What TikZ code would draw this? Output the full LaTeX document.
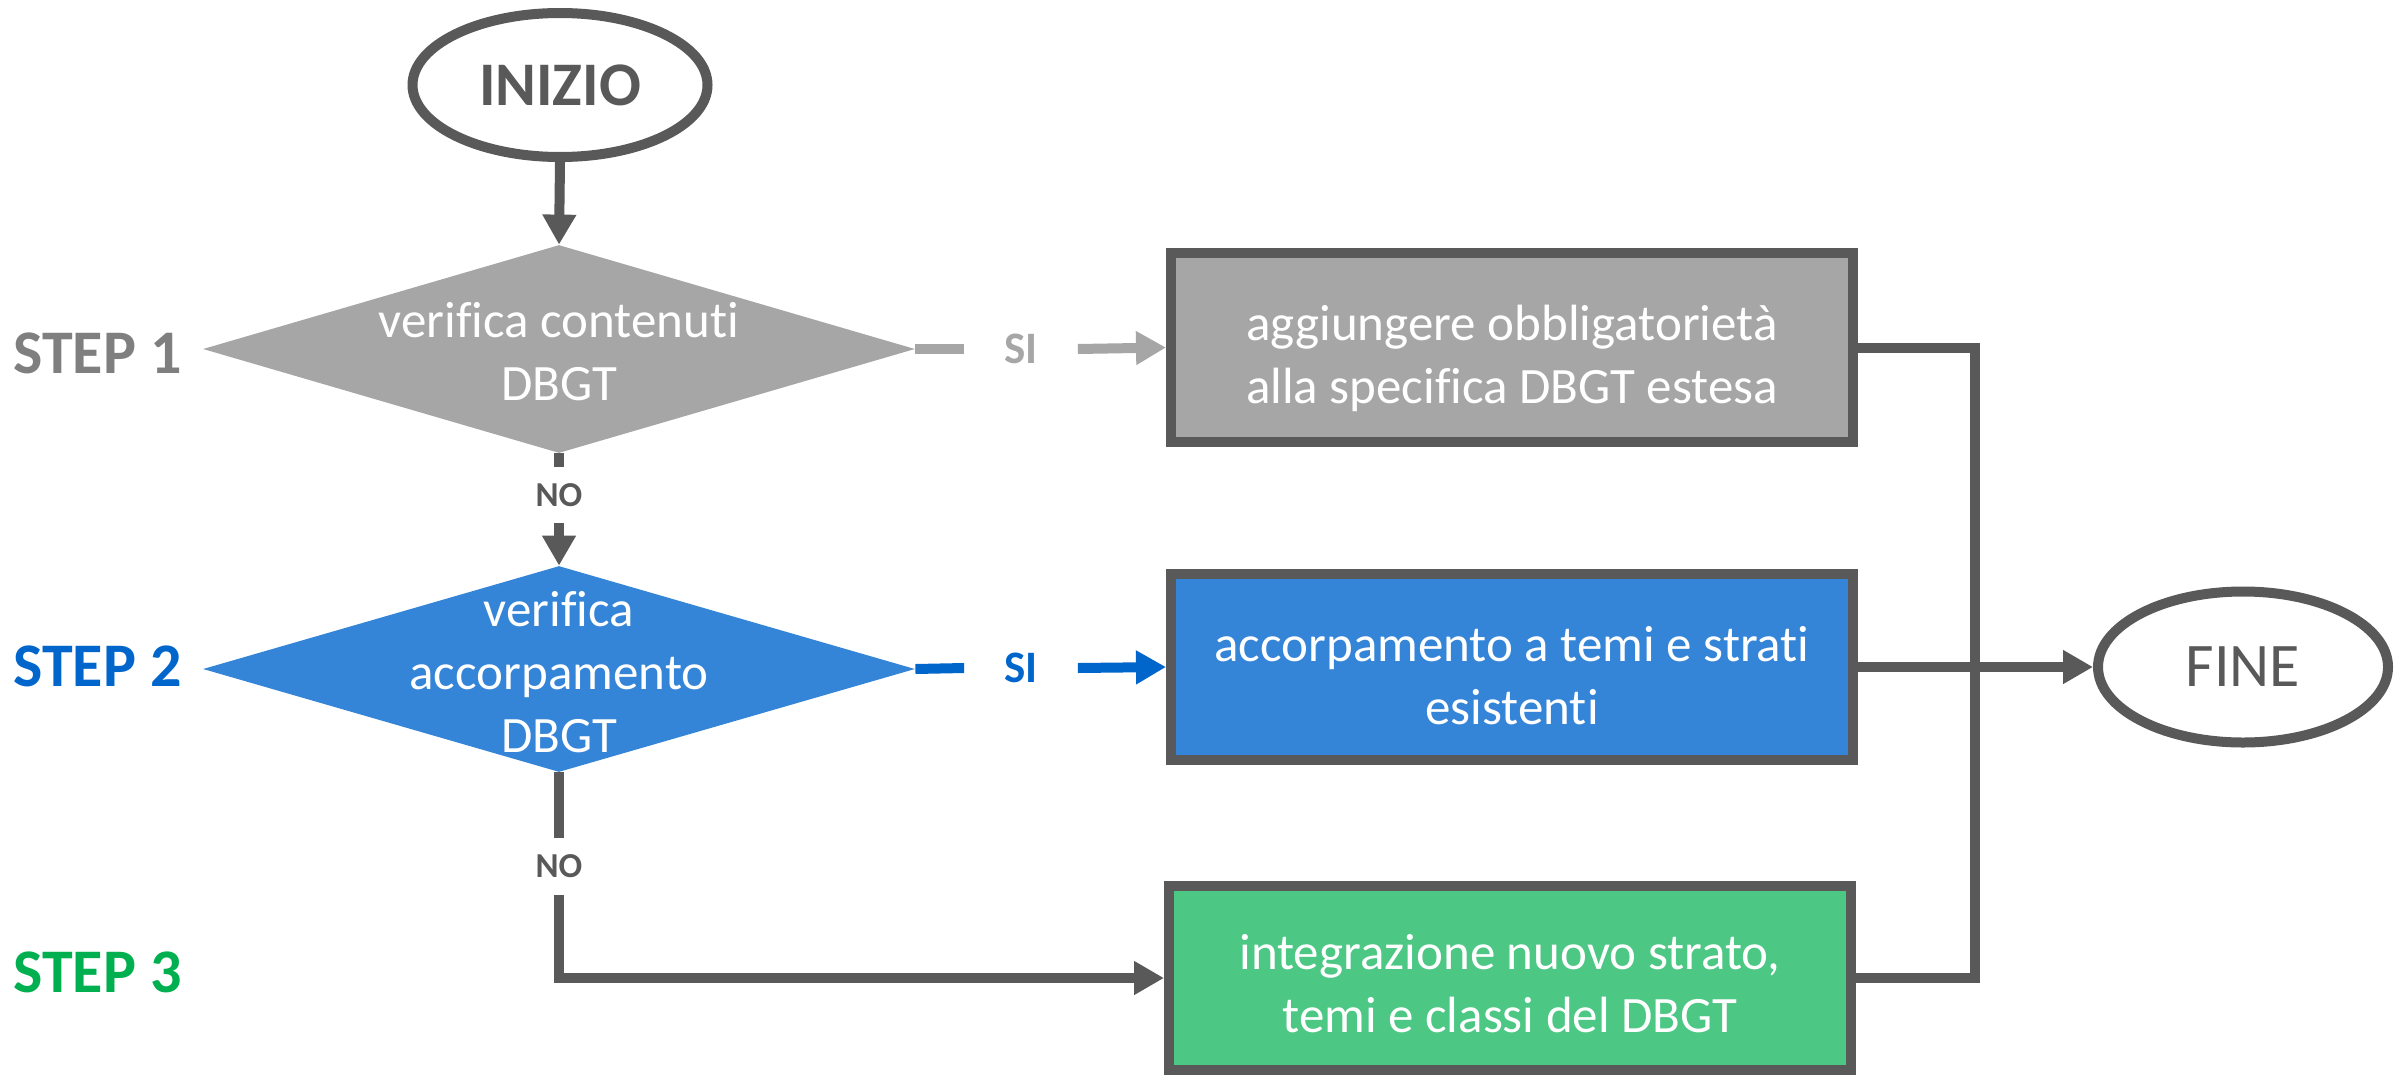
\documentclass[tikz,border=0pt]{standalone}
\usepackage{fontspec}
\setmainfont{Carlito}[Ligatures={NoCommon,NoContextual}]
\usetikzlibrary{shapes.geometric,arrows.meta}
\definecolor{dk}{HTML}{595959}
\definecolor{lg}{HTML}{A6A6A6}
\definecolor{sone}{HTML}{7F7F7F}
\definecolor{bl}{HTML}{0066CC}
\definecolor{blf}{HTML}{3484D7}
\definecolor{gf}{HTML}{4CC784}
\definecolor{sthree}{HTML}{00B050}
\begin{document}
\begin{tikzpicture}[x=0.5pt,y=-0.5pt,
  term/.style={ellipse, draw=dk, line width=5pt, fill=white, inner sep=0pt, text=dk},
  dec/.style={diamond, inner sep=0pt, minimum width=356pt},
  dtext/.style={text=white, align=center, inner sep=0pt, font=\fontsize{25.5pt}{31.5pt}\selectfont},
  proc/.style={rectangle, draw=dk, line width=5pt, minimum width=341pt},
  conn/.style={line width=5pt, draw=dk},
  arr/.style={conn, -{Triangle[length=15pt,width=16pt]}},
  nolbl/.style={inner sep=0pt, text=dk, font=\bfseries\fontsize{17.5pt}{20pt}\selectfont},
  silbl/.style={inner sep=0pt, minimum width=56.5pt, font=\bfseries\fontsize{22.5pt}{26pt}\selectfont},
  steplbl/.style={anchor=west, inner sep=0pt, font=\bfseries\fontsize{31pt}{36pt}\selectfont}
]
\fill[white] (0,0) rectangle (2396,1076);
\useasboundingbox (0,0) rectangle (2396,1076);

% terminals
\node[term, minimum width=147.5pt, minimum height=72pt, font=\bfseries\fontsize{31pt}{36pt}\selectfont] (ini) at (560,85) {INIZIO};
\node[term, minimum width=145pt, minimum height=75.5pt, font=\fontsize{31pt}{36pt}\selectfont] (fine) at (2243,667) {FINE};

% decisions
\node[dec, fill=lg, minimum height=104pt] (d1) at (559,349) {};
\node[dtext] (d1t) at (559,352) {verifica contenuti\\DBGT};
\node[dec, fill=blf, minimum height=103pt] (d2) at (559,669) {};
\node[dtext] (d2t) at (559,672) {verifica\\accorpamento\\DBGT};

% processes
\node[proc, fill=lg, minimum height=94.5pt] (b1) at (1512,347.5) {};
\node[dtext] (b1t) at (1512,358) {aggiungere obbligatorietà\\alla specifica DBGT estesa};
\node[proc, fill=blf, minimum height=93pt] (b2) at (1512,667) {};
\node[dtext] (b2t) at (1512,676) {accorpamento a temi e strati\\esistenti};
\node[proc, fill=gf, minimum height=92pt] (b3) at (1510,978) {};
\node[dtext] (b3t) at (1510,984) {integrazione nuovo strato,\\temi e classi del DBGT};

% step labels
\node[steplbl, text=sone] (st1) at (13,353) {STEP 1};
\node[steplbl, text=bl] (st2) at (13,666) {STEP 2};
\node[steplbl, text=sthree] (st3) at (13,972) {STEP 3};

% branch labels
\node[silbl, text=lg] (si1) at (1021,349) {SI};
\node[silbl, text=bl] (si2) at (1021,668) {SI};
\node[nolbl, minimum height=28pt] (no1) at (559,495) {NO};
\node[nolbl, minimum height=28.5pt] (no2) at (559,866.5) {NO};

\coordinate (bus) at (1975,0);

% connectors
\draw[arr] (ini.south) -- (d1.north);
\draw[line width=5pt, draw=lg] (d1.east) -- (si1.west);
\draw[line width=5pt, draw=lg, -{Triangle[length=15pt,width=16pt]}] (si1.east) -- (b1.west);
\draw[line width=5pt, draw=bl] (d2.east) -- (si2.west);
\draw[line width=5pt, draw=bl, -{Triangle[length=15pt,width=16pt]}] (si2.east) -- (b2.west);
\draw[conn] (d1.south) -- (no1.north);
\draw[arr] (no1.south) -- (d2.north);
\draw[conn] (d2.south) -- (no2.north);
\draw[arr] (no2.south) |- (b3.west);
\draw[conn] (b1.east) -- (b1.east -| bus) -- (b3.east -| bus) -- (b3.east);
\draw[arr] (b2.east) -- (fine.west);
\end{tikzpicture}
\end{document}
